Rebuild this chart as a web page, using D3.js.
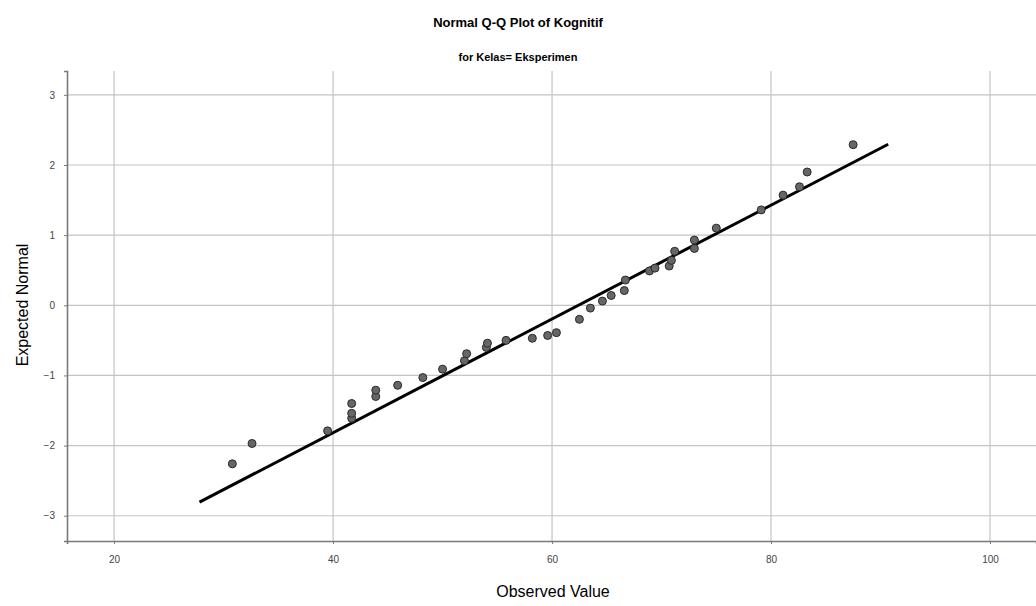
<!DOCTYPE html>
<html>
<head>
<meta charset="utf-8">
<script src="https://cdn.jsdelivr.net/npm/d3@7"></script>
<style>
  body { margin: 0; background: #fff; }
  svg text { font-family: "Liberation Sans", Arial, sans-serif; }
</style>
</head>
<body>
<svg></svg>
<script>
// values
const observed = [30.8, 32.6, 39.5, 41.7, 41.7, 41.7, 43.9, 43.9, 45.9, 48.2,
    50.0, 52.0, 52.2, 54.0, 54.1, 55.8, 58.2, 59.6, 60.4, 62.5,
    63.5, 64.6, 65.4, 66.6, 66.7, 68.9, 69.4, 70.7, 70.9, 71.2,
    73.0, 73.0, 75.0, 79.1, 81.1, 82.6, 83.3, 87.5];
const expected = [-2.26, -1.97, -1.79, -1.61, -1.54, -1.40, -1.30, -1.21, -1.14, -1.03,
    -0.91, -0.79, -0.69, -0.60, -0.54, -0.50, -0.47, -0.43, -0.39, -0.20,
    -0.04, 0.06, 0.14, 0.21, 0.36, 0.49, 0.53, 0.56, 0.64, 0.77,
    0.81, 0.93, 1.10, 1.36, 1.57, 1.69, 1.90, 2.29];
const lineMean = 62.4;
const lineSd = 12.33;
const lineRange = [27.8, 90.7];
const xTicks = [20, 40, 60, 80, 100];
const yTicks = [-3, -2, -1, 0, 1, 2, 3];

const size = {w: 1036, h: 606};
const margin = {t: 71, r: 0, b: 65, l: 67};
const svg = d3.select('svg')
    .attr('width', size.w)
    .attr('height', size.h);

const x = d3.scaleLinear()
    .domain([15.7, 104.2])
    .range([margin.l, size.w - margin.r]);
const y = d3.scaleLinear()
    .domain([-3.36, 3.34])
    .range([size.h - margin.b, margin.t]);

// grid
svg.append('g').selectAll('line')
    .data(xTicks)
    .enter()
    .append('line')
    .attr('x1', d => x(d)).attr('x2', d => x(d))
    .attr('y1', margin.t).attr('y2', size.h - margin.b)
    .attr('stroke', '#c4c4c4')
    .attr('stroke-width', 1.2);
svg.append('g').selectAll('line')
    .data(yTicks)
    .enter()
    .append('line')
    .attr('x1', margin.l).attr('x2', size.w)
    .attr('y1', d => y(d)).attr('y2', d => y(d))
    .attr('stroke', '#c4c4c4')
    .attr('stroke-width', 1.2);

// axes
const xAxis = svg.append('g')
    .attr('transform', `translate(0,${size.h - margin.b})`)
    .call(d3.axisBottom(x).tickValues(xTicks).tickFormat(d3.format('d')).tickSize(3).tickPadding(12));
const yAxis = svg.append('g')
    .attr('transform', `translate(${margin.l},0)`)
    .call(d3.axisLeft(y).tickValues(yTicks).tickFormat(d3.format('d')).tickSize(3).tickPadding(9));
[xAxis, yAxis].forEach(a => {
    a.select('.domain').attr('stroke', '#7a7a7a').attr('stroke-width', 1.6);
    a.selectAll('.tick line').attr('stroke', '#7a7a7a');
    a.selectAll('.tick text').attr('font-size', 10).attr('fill', '#444');
});

// reference line
svg.append('line')
    .attr('x1', x(lineRange[0]))
    .attr('y1', y((lineRange[0] - lineMean) / lineSd))
    .attr('x2', x(lineRange[1]))
    .attr('y2', y((lineRange[1] - lineMean) / lineSd))
    .attr('stroke', '#000')
    .attr('stroke-width', 3);

// points
svg.append('g').selectAll('circle')
    .data(observed)
    .enter()
    .append('circle')
    .attr('cx', d => x(d))
    .attr('cy', (d, i) => y(expected[i]))
    .attr('r', 4)
    .attr('fill', '#666')
    .attr('stroke', '#2a2a2a')
    .attr('stroke-width', 1);

// titles
svg.append('text')
    .attr('x', 518).attr('y', 27)
    .attr('text-anchor', 'middle')
    .attr('font-size', 13).attr('font-weight', 'bold')
    .text('Normal Q-Q Plot of Kognitif');
svg.append('text')
    .attr('x', 518).attr('y', 61)
    .attr('text-anchor', 'middle')
    .attr('font-size', 11).attr('font-weight', 'bold')
    .text('for Kelas= Eksperimen');
svg.append('text')
    .attr('x', 553).attr('y', 597)
    .attr('text-anchor', 'middle')
    .attr('font-size', 16)
    .text('Observed Value');
svg.append('text')
    .attr('transform', 'translate(28,305) rotate(-90)')
    .attr('text-anchor', 'middle')
    .attr('font-size', 16)
    .text('Expected Normal');
</script>
</body>
</html>
